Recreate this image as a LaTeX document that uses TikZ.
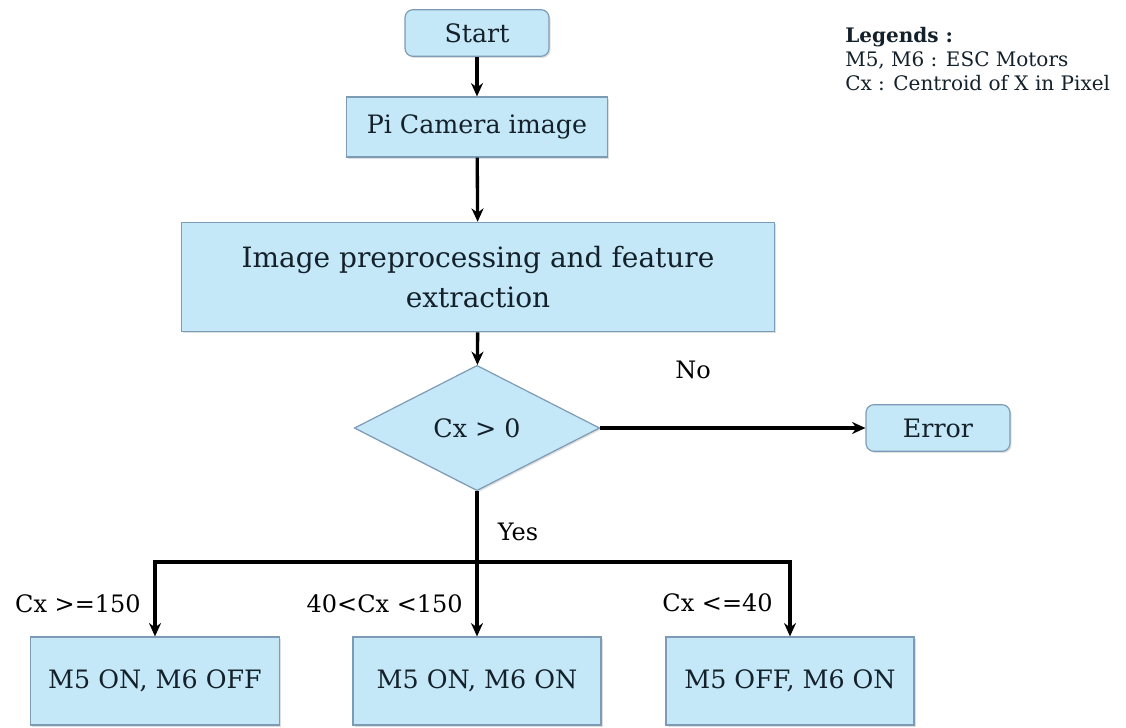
\documentclass[tikz,border=0pt]{standalone}
\usepackage{fontspec}
\setmainfont{DejaVu Serif}
\usepackage{xcolor}
\usepackage{tikz}
\usetikzlibrary{shapes.geometric,arrows.meta,shadows}
\definecolor{FlowFill}{HTML}{C4E8F8}
\definecolor{FlowLine}{HTML}{7E9BB5}
\definecolor{FlowText}{HTML}{14212A}

\begin{document}
\begin{tikzpicture}[x=0.75pt, y=-0.75pt,
  box/.style={draw=FlowLine, fill=FlowFill, line width=0.9pt, text=FlowText,
    font=\fontsize{19}{26}\selectfont, align=center, inner sep=0pt,
    drop shadow={shadow xshift=1.2pt, shadow yshift=-1.2pt, opacity=0.25}},
  terminal/.style={box, rounded corners=6pt},
  decision/.style={box, diamond, aspect=2},
  flow/.style={line width=2.5pt, -{Stealth[length=10pt, width=9pt]}},
  condlabel/.style={font=\fontsize{18}{22}\selectfont, text=black, inner sep=0pt}]
  \useasboundingbox (0,0) rectangle (1126,727);
  % main column
  \node[terminal, minimum width=108pt, minimum height=35pt] (start) at (477,33) {Start};
  \node[box, minimum width=196pt, minimum height=45pt] (camera) at (477,127) {Pi Camera image};
  \node[box, minimum width=445pt, minimum height=82pt, font=\fontsize{21}{30}\selectfont]
    (prep) at (478,277) {Image preprocessing and feature\\extraction};
  \node[decision, minimum width=184pt, minimum height=94pt] (check) at (477,428) {Cx > 0};
  \node[terminal, minimum width=108pt, minimum height=35pt] (error) at (938,428) {Error};
  % motor states
  \node[box, minimum width=187pt, minimum height=66pt] (left) at (155,681) {M5 ON, M6 OFF};
  \node[box, minimum width=186pt, minimum height=66pt] (middle) at (477,681) {M5 ON, M6 ON};
  \node[box, minimum width=186pt, minimum height=66pt] (right) at (790,681) {M5 OFF, M6 ON};
  \coordinate (split) at (477,562);
  \draw[flow] (start) -- (camera);
  \draw[flow] (camera) -- (prep);
  \draw[flow] (prep) -- (check);
  \draw[flow] (check) -- (error);
  \draw[line width=2.5pt] (check.south) -- (split);
  \draw[flow] (split) -- (middle);
  \draw[flow] (split) -| (left);
  \draw[flow] (split) -| (right);
  % labels
  \node[condlabel] (no) at (693,370) {No};
  \node[condlabel] (yes) at (518,532) {Yes};
  \node[condlabel, anchor=east] (cond1) at (141,604) {Cx >=150};
  \node[condlabel, anchor=east] (cond2) at (463,604) {40<Cx <150};
  \node[condlabel, anchor=east] (cond3) at (773,603) {Cx <=40};
  \node[anchor=north west, align=left, inner sep=0pt, text=FlowText,
    font=\fontsize{15}{18}\selectfont] (legend) at (845,27)
    {\textbf{Legends :}\\M5, M6 : ESC Motors\\Cx : Centroid of X in Pixel};
\end{tikzpicture}
\end{document}
